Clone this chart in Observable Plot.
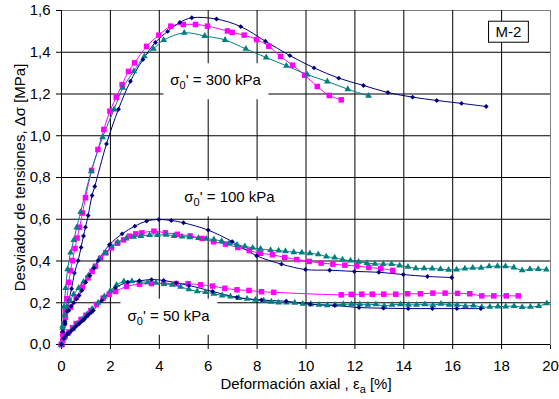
<!DOCTYPE html>
<html><head><meta charset="utf-8">
<script src="https://cdn.jsdelivr.net/npm/d3@7"></script>
<script src="https://cdn.jsdelivr.net/npm/@observablehq/plot@0.6"></script>
<style>body{margin:0;background:#fff}</style>
</head><body><div id="chart"></div>
<script>
// ---------- data ----------
const xTicks = [0,2,4,6,8,10,12,14,16,18,20];
const yTicks = [0,0.2,0.4,0.6,0.8,1.0,1.2,1.4,1.6];
const xTitle = "Deformación axial , ε_a [%]";
const yTitle = "Desviador de tensiones, Δσ [MPa]";
const labelText = ["σ_0' = 300 kPa", "σ_0' = 100 kPa", "σ_0' = 50 kPa", "M-2"];
const labelX = [6.3, 6.87, 4.38, 18.28];
const labelY = [1.265, 0.704, 0.137, 1.495];

const navy300 = [[0,0],[0.08,0.05],[0.15,0.1],[0.22,0.16],[0.3,0.21],[0.41,0.267],[0.53,0.342],[0.68,0.402],[0.8,0.465],[0.9,0.52],[0.98,0.562],[1.09,0.618],[1.25,0.714],[1.36,0.757],[1.84,0.961],[2.33,1.127],[2.82,1.261],[3.33,1.365],[3.84,1.447],[4.34,1.5],[4.84,1.543],[5.33,1.565],[6.34,1.559],[7.33,1.523],[8.34,1.453],[9.34,1.384],[10.33,1.325],[11.34,1.276],[12.35,1.241],[13.35,1.207],[14.36,1.185],[15.35,1.169],[16.36,1.155],[17.37,1.14]];
const magenta300 = [[0,0],[0.05,0.05],[0.1,0.1],[0.15,0.16],[0.22,0.219],[0.3,0.298],[0.37,0.354],[0.45,0.402],[0.55,0.46],[0.64,0.51],[0.74,0.562],[0.86,0.63],[0.98,0.703],[1.23,0.834],[1.49,0.934],[1.73,1.03],[1.98,1.118],[2.24,1.185],[2.48,1.245],[2.74,1.308],[2.99,1.349],[3.48,1.428],[3.98,1.482],[4.47,1.525],[4.98,1.533],[5.48,1.533],[5.97,1.525],[6.79,1.502],[6.98,1.495],[7.47,1.482],[7.98,1.461],[8.48,1.429],[8.96,1.38],[9.45,1.338],[9.95,1.29],[10.46,1.236],[10.95,1.193],[11.44,1.172]];
const teal300 = [[0,0],[0.05,0.09],[0.1,0.18],[0.17,0.27],[0.25,0.36],[0.37,0.44],[0.5,0.5],[0.62,0.56],[0.78,0.634],[1.22,0.83],[1.68,0.993],[2.15,1.126],[2.51,1.23],[2.96,1.309],[3.39,1.38],[3.76,1.416],[4.18,1.458],[5.02,1.493],[5.86,1.478],[6.69,1.459],[7.54,1.416],[8.37,1.375],[9.2,1.335],[10.05,1.293],[10.87,1.26],[11.71,1.223],[12.56,1.191]];

const navy100 = [[0,0],[0.05,0.06],[0.15,0.11],[0.3,0.163],[0.4,0.183],[0.5,0.2],[0.61,0.218],[0.72,0.235],[0.83,0.259],[0.99,0.298],[1.16,0.33],[1.33,0.365],[1.5,0.402],[1.96,0.478],[2.48,0.53],[3.0,0.567],[3.48,0.591],[3.98,0.599],[4.49,0.594],[4.99,0.583],[6.0,0.548],[6.98,0.493],[7.98,0.425],[9.0,0.385],[9.98,0.359],[10.97,0.356],[11.98,0.35],[12.98,0.346],[13.98,0.335],[14.97,0.326],[15.96,0.321]];
const magenta100 = [[0,0],[0.05,0.05],[0.16,0.131],[0.37,0.179],[0.6,0.227],[0.85,0.275],[1.08,0.319],[1.25,0.35],[1.39,0.375],[1.6,0.413],[1.81,0.439],[2.04,0.463],[2.29,0.485],[2.54,0.501],[2.78,0.519],[3.04,0.53],[3.29,0.535],[3.78,0.543],[4.25,0.535],[4.74,0.528],[5.26,0.52],[5.75,0.508],[6.22,0.492],[6.71,0.481],[7.21,0.465],[7.68,0.45],[8.14,0.437],[8.63,0.43],[9.13,0.417],[9.62,0.407],[10.13,0.398],[10.62,0.39],[11.1,0.385],[11.59,0.38],[12.08,0.376],[12.57,0.369],[13.06,0.364],[13.55,0.355]];
const teal100 = [[0,0],[0.05,0.08],[0.12,0.14],[0.22,0.18],[0.35,0.21],[0.5,0.24],[0.7,0.27],[0.9,0.3],[1.1,0.33],[1.32,0.37],[1.55,0.41],[1.8,0.44],[2.05,0.47],[2.3,0.49],[2.65,0.508],[2.95,0.516],[3.25,0.52],[3.6,0.524],[3.93,0.524],[4.28,0.526],[4.6,0.52],[4.93,0.517],[5.25,0.514],[5.6,0.51],[5.92,0.506],[6.23,0.503],[6.55,0.495],[6.86,0.485],[7.18,0.477],[7.5,0.47],[7.82,0.463],[8.14,0.458],[8.55,0.452],[8.88,0.45],[9.16,0.447],[9.5,0.442],[9.83,0.44],[10.16,0.437],[10.5,0.432],[10.83,0.421],[11.17,0.416],[11.49,0.407],[11.82,0.402],[12.15,0.396],[12.49,0.39],[12.82,0.386],[13.16,0.385],[13.5,0.385],[13.83,0.378],[14.17,0.372],[14.49,0.365],[14.83,0.365],[15.16,0.364],[15.5,0.361],[15.83,0.358],[16.16,0.359],[16.5,0.364],[16.82,0.367],[17.16,0.367],[17.49,0.374],[17.83,0.375],[18.16,0.374],[18.5,0.369],[18.84,0.355],[19.16,0.361],[19.5,0.361],[19.83,0.359]];

const navy50 = [[0,0],[0.1,0.03],[0.2,0.045],[0.29,0.055],[0.4,0.065],[0.5,0.075],[0.6,0.087],[0.72,0.099],[0.82,0.11],[0.92,0.12],[1.01,0.132],[1.1,0.142],[1.2,0.152],[1.3,0.163],[1.65,0.211],[2.21,0.272],[2.71,0.298],[3.18,0.305],[3.68,0.311],[4.18,0.307],[4.69,0.295],[5.21,0.283],[6.18,0.254],[7.17,0.226],[8.18,0.213],[9.19,0.207],[10.18,0.193],[11.18,0.187],[12.17,0.177],[13.17,0.174],[14.18,0.172],[15.17,0.172],[16.17,0.172],[17.15,0.172]];
const magenta50 = [[0,0],[0.05,0.02],[0.15,0.04],[0.3,0.06],[0.45,0.08],[0.6,0.1],[0.8,0.12],[1.0,0.14],[1.2,0.162],[1.43,0.192],[1.7,0.222],[1.95,0.24],[2.21,0.254],[2.66,0.278],[3.19,0.289],[3.68,0.292],[4.18,0.293],[4.69,0.292],[5.18,0.291],[5.69,0.286],[6.18,0.28],[6.68,0.269],[7.18,0.262],[7.67,0.259],[8.18,0.253],[8.68,0.25],[11.44,0.238],[11.85,0.24],[12.28,0.241],[12.71,0.241],[13.18,0.241],[13.67,0.241],[14.16,0.243],[14.68,0.243],[15.19,0.246],[15.69,0.246],[16.2,0.245],[16.7,0.243],[17.19,0.233],[17.68,0.233],[18.19,0.233],[18.68,0.233]];
const teal50 = [[0,0],[0.1,0.03],[0.25,0.05],[0.45,0.075],[0.65,0.1],[0.85,0.12],[1.05,0.145],[1.25,0.17],[1.5,0.2],[1.75,0.23],[2.0,0.258],[2.25,0.285],[2.55,0.302],[2.88,0.303],[3.2,0.3],[3.52,0.298],[3.86,0.295],[4.2,0.291],[4.53,0.286],[4.87,0.276],[5.21,0.264],[5.55,0.255],[5.89,0.251],[6.23,0.243],[6.57,0.235],[6.91,0.23],[7.25,0.223],[7.59,0.219],[7.93,0.214],[8.27,0.21],[8.58,0.205],[8.88,0.201],[9.2,0.201],[9.54,0.2],[9.87,0.195],[10.2,0.193],[10.53,0.19],[10.87,0.188],[11.19,0.19],[11.53,0.193],[11.86,0.193],[12.2,0.192],[12.53,0.19],[12.86,0.192],[13.2,0.185],[13.52,0.19],[13.86,0.192],[14.19,0.19],[14.52,0.19],[14.86,0.192],[15.19,0.188],[15.52,0.195],[15.85,0.19],[16.18,0.19],[16.52,0.184],[16.85,0.187],[17.19,0.179],[17.52,0.18],[17.85,0.182],[18.17,0.182],[18.51,0.184],[18.84,0.179],[19.18,0.18],[19.52,0.184],[19.85,0.197]];

// ---------- styles ----------
const styles = {
  navy:    {color: "#000080", symbol: "diamond2", r: 2.2},
  magenta: {color: "#FF00FF", symbol: "square",   r: 3.1},
  teal:    {color: "#008080", symbol: "triangle", r: 2.5}
};
const seriesDefs = [
  ["magenta", magenta300], ["teal", teal300], ["navy", navy300],
  ["magenta", magenta100], ["teal", teal100], ["navy", navy100],
  ["magenta", magenta50],  ["teal", teal50],  ["navy", navy50]
];

const marks = [
  Plot.frame({stroke: "#808080"}),
  Plot.ruleX(xTicks.filter(d => d > 0 && d < 20), {stroke: "#000", strokeWidth: 1}),
  Plot.ruleY(yTicks.filter(d => d > 0 && d < 1.6), {stroke: "#000", strokeWidth: 1}),
  Plot.ruleX([xTicks[0]], {stroke: "#000"}),
  Plot.ruleY([yTicks[0]], {stroke: "#000"}),
  Plot.text(labelText, {x: (d, i) => labelX[i], y: (d, i) => labelY[i], text: d => d, fill: "#000", fontSize: 15})
];
for (const [key, pts] of seriesDefs) {
  const s = styles[key];
  marks.push(Plot.line(pts, {x: d => d[0], y: d => d[1], stroke: s.color, strokeWidth: 1, curve: "catmull-rom"}));
}
for (const [key, pts] of seriesDefs) {
  const s = styles[key];
  marks.push(Plot.dot(pts, {x: d => d[0], y: d => d[1], fill: s.color, stroke: "none", symbol: s.symbol, r: s.r}));
}
marks.push(Plot.text([xTitle], {frameAnchor: "bottom", dy: 40, textAnchor: "middle", lineAnchor: "middle", text: d => d, fontSize: 15}));
marks.push(Plot.text([yTitle], {frameAnchor: "left", dx: -41, rotate: -90, textAnchor: "middle", lineAnchor: "middle", text: d => d, fontSize: 15}));

const chart = Plot.plot({
  width: 559, height: 399,
  marginLeft: 61, marginRight: 9, marginTop: 10, marginBottom: 55,
  style: {fontFamily: "'Liberation Sans', Arial, sans-serif", fontSize: "15px", background: "#fff", color: "#000"},
  x: {domain: [0, 20], ticks: xTicks, tickFormat: d => String(d), tickSize: 5, tickPadding: 11, label: null},
  y: {domain: [0, 1.6], ticks: yTicks, tickFormat: d => d.toFixed(1).replace(".", ","), tickSize: 5, tickPadding: 6, label: null},
  marks
});
document.getElementById("chart").appendChild(chart);

// ---------- post-process: subscripts and label boxes ----------
const ns = "http://www.w3.org/2000/svg";
chart.querySelectorAll("text").forEach(t => {
  const s = t.textContent;
  if (!s.includes("_")) return;
  const parts = s.split(/_(.)/);
  t.textContent = "";
  parts.forEach((p, i) => {
    const ts = document.createElementNS(ns, "tspan");
    ts.textContent = p;
    if (i % 2 === 1) { ts.setAttribute("dy", "4"); ts.setAttribute("font-size", "11px"); }
    else if (i > 0) ts.setAttribute("dy", "-4");
    t.appendChild(ts);
  });
});
chart.querySelectorAll("text").forEach(t => {
  const s = t.textContent;
  if (!(s.includes("kPa") || s === "M-2")) return;
  const b = t.getBBox();
  const boxed = s === "M-2";
  const px = boxed ? 7 : 7, py = boxed ? 2 : 8;
  const r = document.createElementNS(ns, "rect");
  r.setAttribute("x", b.x - px);
  r.setAttribute("y", b.y - py);
  r.setAttribute("width", b.width + 2 * px);
  r.setAttribute("height", b.height + 2 * py);
  r.setAttribute("fill", "#fff");
  r.setAttribute("stroke", boxed ? "#000" : "none");
  const tr = t.getAttribute("transform");
  if (tr) r.setAttribute("transform", tr);
  t.parentNode.insertBefore(r, t);
});
</script>
</body></html>
